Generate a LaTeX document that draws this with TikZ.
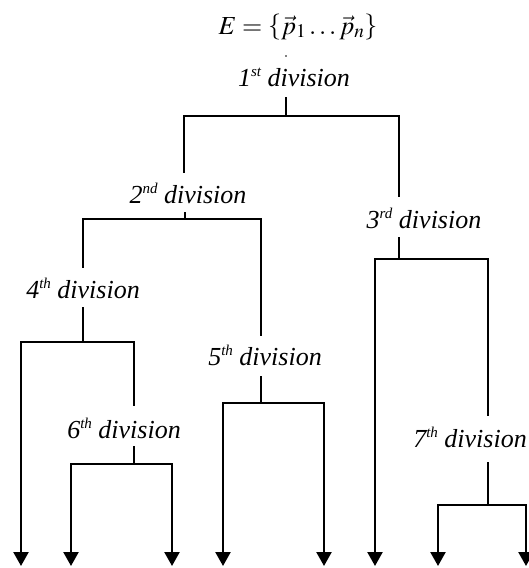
\documentclass[tikz,border=0pt]{standalone}
\usepackage{mathptmx}
\usepackage[no-math]{fontspec}
\setmainfont{Liberation Serif}
\usetikzlibrary{arrows.meta}
\newcommand\sups[1]{\raisebox{10pt}{\fontsize{15}{15}\selectfont #1}}
\tikzset{
  lbl/.style={anchor=base,inner sep=0pt,font=\fontsize{26}{30}\selectfont\itshape},
  tree/.style={line width=1.6pt,line cap=rect},
  arr/.style={line width=2.4pt,-{Triangle[width=15pt,length=14pt]}}
}
\begin{document}
\begin{tikzpicture}[x=1pt,y=-1pt]
\useasboundingbox (0,0) rectangle (528,568);
% formula
\node[anchor=base,inner sep=0pt,font=\fontsize{26}{30}\selectfont] (F) at (298,34)
  {$E=\left\{\vec{p}_1\ldots\vec{p}_n\right\}$};
\fill (286,56) circle (0.8);
% labels
\node[lbl] (n1) at (294,86) {1\sups{st} division};
\node[lbl] (n2) at (188,203) {2\sups{nd} division};
\node[lbl] (n3) at (424,228) {3\sups{rd} division};
\node[lbl] (n4) at (83,298) {4\sups{th} division};
\node[lbl] (n5) at (265,365) {5\sups{th} division};
\node[lbl] (n6) at (124,438) {6\sups{th} division};
\node[lbl] (n7) at (470,447) {7\sups{th} division};
% label-adjacent ends
\path (n1.base) ++(-8,12) coordinate (n1s);
\path (n2.base) ++(-4,-31) coordinate (n2t);
\path (n2.base) ++(-3,10) coordinate (n2s);
\path (n3.base) ++(-25,-32) coordinate (n3t);
\path (n3.base) ++(-25,10) coordinate (n3s);
\path (n4.base) ++(0,-31) coordinate (n4t);
\path (n4.base) ++(0,10) coordinate (n4s);
\path (n5.base) ++(-4,-30) coordinate (n5t);
\path (n5.base) ++(-4,12) coordinate (n5s);
\path (n6.base) ++(10,-33) coordinate (n6t);
\path (n6.base) ++(10,9) coordinate (n6s);
\path (n7.base) ++(18,-32) coordinate (n7t);
\path (n7.base) ++(18,16) coordinate (n7s);
% leaves
\coordinate (l1) at (21,566);
\coordinate (l2) at (71,566);
\coordinate (l3) at (172,566);
\coordinate (l4) at (223,566);
\coordinate (l5) at (324,566);
\coordinate (l6) at (375,566);
\coordinate (l7) at (438,566);
\coordinate (l8) at (526,566);
% 1st division
\draw[tree] (n1s) -- (286,116);
\draw[tree] (n2t) -- (184,116) -- (399,116) -- (n3t);
% 2nd division
\draw[tree] (n2s) -- (185,219);
\draw[tree] (n4t) |- (261,219) -- (n5t);
% 4th division
\draw[tree] (n4s) -- (83,342);
\draw[tree] (21,342) -| (n6t);
\draw[arr] (21,341.2) -- (l1);
% 6th division
\draw[tree] (n6s) -- (134,464);
\draw[tree] (71,464) -- (172,464);
\draw[arr] (71,463.2) -- (l2);
\draw[arr] (172,463.2) -- (l3);
% 5th division
\draw[tree] (n5s) -- (261,403);
\draw[tree] (223,403) -- (324,403);
\draw[arr] (223,402.2) -- (l4);
\draw[arr] (324,402.2) -- (l5);
% 3rd division
\draw[tree] (n3s) -- (399,259);
\draw[tree] (375,259) -| (n7t);
\draw[arr] (375,258.2) -- (l6);
% 7th division
\draw[tree] (n7s) -- (488,505);
\draw[tree] (438,505) -- (526,505);
\draw[arr] (438,504.2) -- (l7);
\draw[arr] (526,504.2) -- (l8);
\end{tikzpicture}
\end{document}
